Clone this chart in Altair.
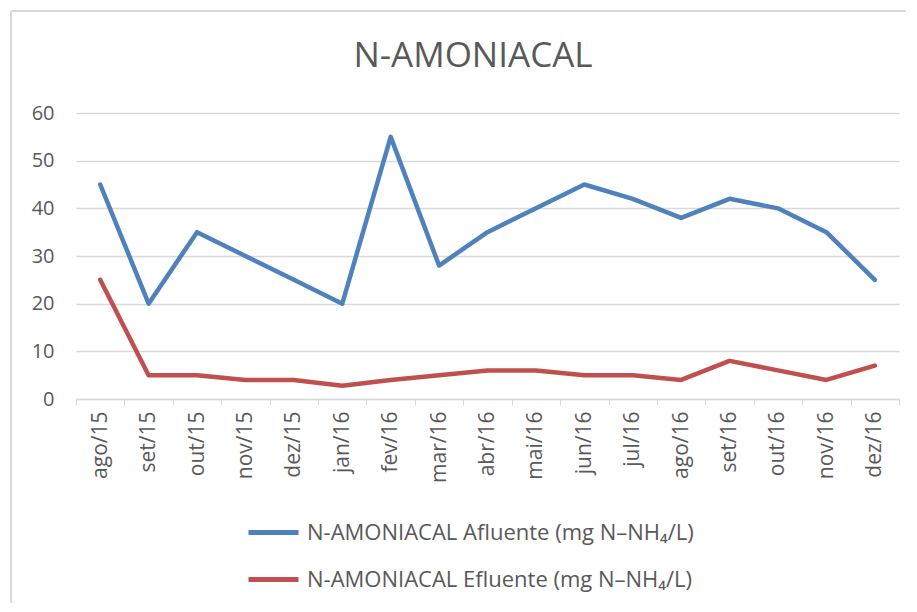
import altair as alt
import pandas as pd

months = ["ago/15", "set/15", "out/15", "nov/15", "dez/15", "jan/16", "fev/16", "mar/16",
          "abr/16", "mai/16", "jun/16", "jul/16", "ago/16", "set/16", "out/16", "nov/16", "dez/16"]
afluente = [45, 20, 35, 30, 25, 20, 55, 28, 35, 40, 45, 42, 38, 42, 40, 35, 25]
efluente = [25, 5, 5, 4, 4, 2.8, 4, 5, 6, 6, 5, 5, 4, 8, 6, 4, 7]
series_names = ["N-AMONIACAL Afluente (mg N\u2013NH\u2084/L)", "N-AMONIACAL Efluente (mg N\u2013NH\u2084/L)"]
colors = ["#4F81BD", "#C0504D"]
chart_title = "N-AMONIACAL"

rows = []
for m, a, e in zip(months, afluente, efluente):
    rows.append({"mes": m, "serie": series_names[0], "valor": a})
    rows.append({"mes": m, "serie": series_names[1], "valor": e})
df = pd.DataFrame(rows)

FONT = "Open Sans"
GRAY = "#595959"
LIGHT = "#D9D9D9"

lines = alt.Chart(df).mark_line(strokeWidth=4.5, strokeCap="round", strokeJoin="round").encode(
    x=alt.X("mes:N", sort=months, title=None,
            scale=alt.Scale(paddingInner=0, paddingOuter=0),
            axis=alt.Axis(labelAngle=-90, labelAlign="right", labelBaseline="middle",
                          labelFont=FONT, labelFontSize=21, labelColor=GRAY, labelPadding=6,
                          tickBand="extent", tickColor=LIGHT, tickSize=6, tickWidth=1,
                          domainColor=LIGHT, domainWidth=1.5, grid=False)),
    y=alt.Y("valor:Q", title=None,
            scale=alt.Scale(domain=[0, 60], nice=False),
            axis=alt.Axis(values=[0, 10, 20, 30, 40, 50, 60], domain=False, ticks=False,
                          labelFont=FONT, labelFontSize=20, labelColor=GRAY, labelPadding=22,
                          gridColor=LIGHT, gridWidth=1.5)),
    color=alt.Color("serie:N", title=None,
                    scale=alt.Scale(domain=series_names, range=colors),
                    legend=alt.Legend(orient="none", legendX=170, legendY=392, direction="vertical",
                                      symbolType="stroke", symbolSize=2500, symbolStrokeWidth=5,
                                      labelFont=FONT, labelFontSize=22, labelColor=GRAY,
                                      labelOffset=6, rowPadding=8, labelLimit=700, padding=0)),
)

title_mark = alt.Chart(pd.DataFrame({"t": [chart_title]})).mark_text(
    font=FONT, fontSize=35, color=GRAY, align="center", baseline="middle").encode(
    text="t:N", x=alt.value(397), y=alt.value(-57))

top_border = alt.Chart(pd.DataFrame({"k": [0]})).mark_rule(color=LIGHT, strokeWidth=2).encode(
    x=alt.value(-65), x2=alt.value(830), y=alt.value(-102))
left_border = alt.Chart(pd.DataFrame({"k": [0]})).mark_rule(color=LIGHT, strokeWidth=2).encode(
    x=alt.value(-65), y=alt.value(-102), y2=alt.value(490))

chart = alt.layer(top_border, left_border, title_mark, lines).properties(
    width=823, height=286,
    padding={"left": 2, "top": 2, "right": 0, "bottom": 0},
).configure_view(stroke=None)

chart.save("out.html", embed_options={"renderer": "svg", "actions": False})
